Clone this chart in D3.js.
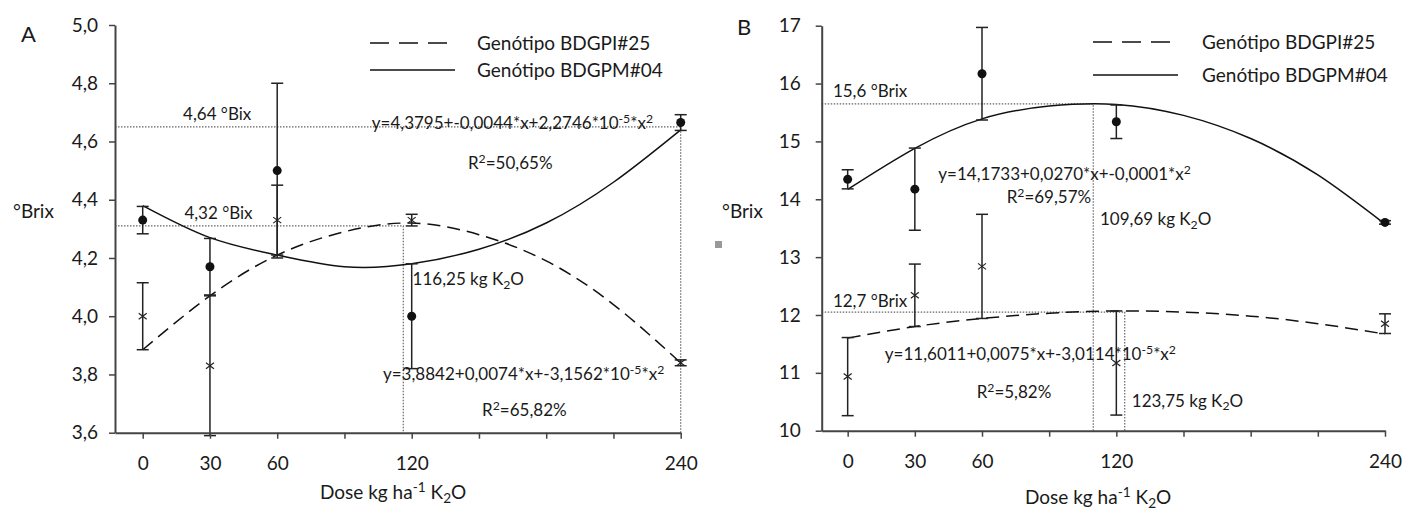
<!DOCTYPE html>
<html>
<head>
<meta charset="utf-8">
<script src="https://cdn.jsdelivr.net/npm/d3@7"></script>
<style>
body { margin: 0; background: #fff; }
svg { font-family: Lato, "Open Sans", sans-serif; }
</style>
</head>
<body>
<script>
"use strict";
// doses (kg ha-1 K2O)
const doses = [0, 30, 60, 120, 240];
const xTicks = [0, 30, 60, 90, 120, 150, 180, 210, 240];
const xLabels = [0, 30, 60, 120, 240];
const seriesNames = ["Genótipo BDGPI#25", "Genótipo BDGPM#04"];

// panel A, measured means and error
const aPI = [4.00, 3.83, 4.33, 4.33, 3.84];
const aPIerr = [0.115, 0.24, 0.12, 0.02, 0.01];
const aPM = [4.33, 4.17, 4.50, 4.00, 4.665];
const aPMerr = [0.047, 0.097, 0.30, 0.18, 0.027];
// panel A, fitted curves
const fitX = [0, 30, 60, 90, 120, 150, 180, 210, 240];
const aPIfit = [3.885, 4.07, 4.21, 4.29, 4.32, 4.28, 4.19, 4.04, 3.84];
const aPMfit = [4.38, 4.27, 4.21, 4.17, 4.18, 4.23, 4.32, 4.46, 4.64];
const aRefX = [240, 116.25];
const aRefY = [4.65, 4.31];

// panel B
const bPI = [10.935, 12.34, 12.84, 11.17, 11.85];
const bPIerr = [0.675, 0.54, 0.9, 0.9, 0.17];
const bPM = [14.345, 14.175, 16.17, 15.34, 13.6];
const bPMerr = [0.165, 0.71, 0.8, 0.29, 0.03];
const bPIfit = [11.60, 11.80, 11.94, 12.03, 12.07, 12.05, 11.98, 11.85, 11.67];
const bPMfit = [14.17, 14.88, 15.39, 15.61, 15.64, 15.45, 15.05, 14.42, 13.57];
const bRefX = [109.69, 123.75];
const bRefY = [15.65, 12.05];

const W = 1406, H = 514;
const svg = d3.select("body").append("svg").attr("width", W).attr("height", H);

// text with sup/sub parts
function rich(g, x, y, parts, size) {
	const t = g.append("text").attr("x", x).attr("y", y).attr("fill", "#1a1a1a").style("font-size", size + "px");
	let shift = 0;
	parts.forEach(p => {
		const s = typeof p === "string" ? p : p[0];
		const kind = typeof p === "string" ? "" : p[1];
		const want = kind === "sup" ? -size * 0.36 : kind === "sub" ? size * 0.22 : 0;
		t.append("tspan").attr("dy", want - shift).style("font-size", kind ? (size * 0.72) + "px" : null).text(s);
		shift = want;
	});
	return t;
}

function panel(c) {
	const g = svg.append("g");
	const x = d3.scaleLinear().domain(c.xDomain).range(c.xRange);
	const y = d3.scaleLinear().domain(c.yDomain).range(c.yRange);
	const x0 = c.xDomain[0], y0 = c.yDomain[0];

	// dotted guide lines
	c.refX.forEach((rx, i) => {
		const ry = c.refY[i];
		g.append("path").attr("d", d3.line()([[x(x0), y(ry)], [x(rx), y(ry)], [x(rx), y(y0)]]))
		.attr("fill", "none").attr("stroke", "#666").attr("stroke-width", 1.2).attr("stroke-dasharray", "1.5,1.5");
	});

	// fitted curves
	const line = d3.line().x((d, i) => x(fitX[i])).y(d => y(d)).curve(d3.curveNatural);
	g.append("path").attr("d", line(c.piFit)).attr("fill", "none").attr("stroke", "#111").attr("stroke-width", 1.5).attr("stroke-dasharray", "13,7");
	g.append("path").attr("d", line(c.pmFit)).attr("fill", "none").attr("stroke", "#111").attr("stroke-width", 1.5);

	// error bars
	const bars = (vals, errs) => {
		vals.forEach((v, i) => {
			const cx = x(doses[i]);
			g.append("line").attr("x1", cx).attr("x2", cx).attr("y1", y(v - errs[i])).attr("y2", y(v + errs[i])).attr("stroke", "#222").attr("stroke-width", 1.5);
			[v - errs[i], v + errs[i]].forEach(e => {
				g.append("line").attr("x1", cx - 6).attr("x2", cx + 6).attr("y1", y(e)).attr("y2", y(e)).attr("stroke", "#222").attr("stroke-width", 1.5);
			});
		});
	};
	bars(c.pi, c.piErr);
	bars(c.pm, c.pmErr);

	g.selectAll(".dot").data(c.pm).enter().append("circle")
	.attr("cx", (d, i) => x(doses[i])).attr("cy", d => y(d)).attr("r", 4.5).attr("fill", "#111");
	c.pi.forEach((v, i) => {
		const cx = x(doses[i]), cy = y(v);
		g.append("path").attr("d", `M${cx - 4},${cy - 3}L${cx + 4},${cy + 3}M${cx - 4},${cy + 3}L${cx + 4},${cy - 3}`)
		.attr("stroke", "#222").attr("stroke-width", 1.2);
	});

	// axes
	const xAxis = d3.axisBottom(x).tickValues(xTicks).tickSize(6).tickSizeOuter(0).tickPadding(18)
	.tickFormat(d => xLabels.includes(d) ? d : "");
	const yAxis = d3.axisLeft(y).tickValues(c.yTicks).tickSize(6).tickSizeOuter(0).tickPadding(c.yPad)
	.tickFormat(c.fmt);
	const gx = g.append("g").attr("transform", "translate(0," + c.yRange[0] + ")").call(xAxis);
	const gy = g.append("g").attr("transform", "translate(" + c.xRange[0] + ",0)").call(yAxis);
	[gx, gy].forEach(a => {
		a.select(".domain").attr("stroke", "#444").attr("stroke-width", 2);
		a.selectAll(".tick line").attr("stroke", "#444").attr("stroke-width", 1.5);
		a.selectAll(".tick text").attr("fill", "#1a1a1a").style("font-size", "19px").style("font-family", "Lato, sans-serif");
	});

	// legend
	const lg = c.legend;
	g.append("line").attr("x1", lg[0]).attr("x2", lg[0] + 77).attr("y1", lg[1]).attr("y2", lg[1])
	.attr("stroke", "#111").attr("stroke-width", 1.5).attr("stroke-dasharray", "19,10");
	g.append("line").attr("x1", lg[0]).attr("x2", lg[0] + 85).attr("y1", lg[2]).attr("y2", lg[2])
	.attr("stroke", "#111").attr("stroke-width", 1.5);
	rich(g, lg[3], lg[1] + 7, [seriesNames[0]], 19);
	rich(g, lg[3], lg[2] + 7, [seriesNames[1]], 19);

	// annotations (positions in data units)
	c.notes.forEach(n => rich(g, x(n[0]), y(n[1]), n[2], n[3]));

	svg.append("text").attr("x", c.letter[0]).attr("y", c.letter[1]).text(c.name).style("font-size", "22px").attr("fill", "#1a1a1a");
	rich(svg, c.ylab[0], c.ylab[1], ["°Brix"], 19);
	rich(svg, c.xlab[0], c.xlab[1], ["Dose kg ha", ["-1", "sup"], " K", ["2", "sub"], "O"], 19);
}

const comma = f => d => d3.format(f)(d).replace(".", ",");

panel({
	name: "A", letter: [21, 42], ylab: [13, 218], xlab: [320, 499],
	xDomain: [-12.36, 240], xRange: [115, 680.7],
	yDomain: [3.6, 5.0], yRange: [432.7, 25],
	yTicks: [3.6, 3.8, 4.0, 4.2, 4.4, 4.6, 4.8, 5.0], yPad: 11, fmt: comma(".1f"),
	pi: aPI, piErr: aPIerr, pm: aPM, pmErr: aPMerr, piFit: aPIfit, pmFit: aPMfit,
	refX: aRefX, refY: aRefY,
	legend: [370, 43, 70, 477],
	notes: [
		[18, 4.675, ["4,64 °Bix"], 17],
		[18.6, 4.335, ["4,32 °Bix"], 17],
		[102.2, 4.643, ["y=4,3795+-0,0044*x+2,2746*10", ["-5", "sup"], "*x", ["2", "sup"]], 17],
		[145.1, 4.505, ["R", ["2", "sup"], "=50,65%"], 17],
		[120.4, 4.106, ["116,25 kg K", ["2", "sub"], "O"], 17],
		[107.2, 3.781, ["y=3,8842+0,0074*x+-3,1562*10", ["-5", "sup"], "*x", ["2", "sup"]], 17],
		[151.4, 3.658, ["R", ["2", "sup"], "=65,82%"], 17]
	]
});

panel({
	name: "B", letter: [737, 35], ylab: [722, 218], xlab: [1025, 504],
	xDomain: [-11.6, 240], xRange: [821.7, 1385],
	yDomain: [10, 17], yRange: [430.7, 25.7],
	yTicks: [10, 11, 12, 13, 14, 15, 16, 17], yPad: 15, fmt: d3.format("d"),
	pi: bPI, piErr: bPIerr, pm: bPM, pmErr: bPMerr, piFit: bPIfit, pmFit: bPMfit,
	refX: bRefX, refY: bRefY,
	legend: [1093, 42, 75, 1202],
	notes: [
		[-6.6, 15.76, ["15,6 °Brix"], 17],
		[-6.6, 12.13, ["12,7 °Brix"], 17],
		[40.5, 14.33, ["y=14,1733+0,0270*x+-0,0001*x", ["2", "sup"]], 17],
		[71.0, 13.93, ["R", ["2", "sup"], "=69,57%"], 17],
		[112.7, 13.555, ["109,69 kg K", ["2", "sub"], "O"], 17],
		[16.6, 11.222, ["y=11,6011+0,0075*x+-3,0114*10", ["-5", "sup"], "*x", ["2", "sup"]], 17],
		[57.6, 10.56, ["R", ["2", "sup"], "=5,82%"], 17],
		[126.9, 10.415, ["123,75 kg K", ["2", "sub"], "O"], 17]
	]
});

// small grey square between the panels
svg.append("rect").attr("x", 715).attr("y", 241).attr("width", 7).attr("height", 7).attr("fill", "#999");
</script>
</body>
</html>
